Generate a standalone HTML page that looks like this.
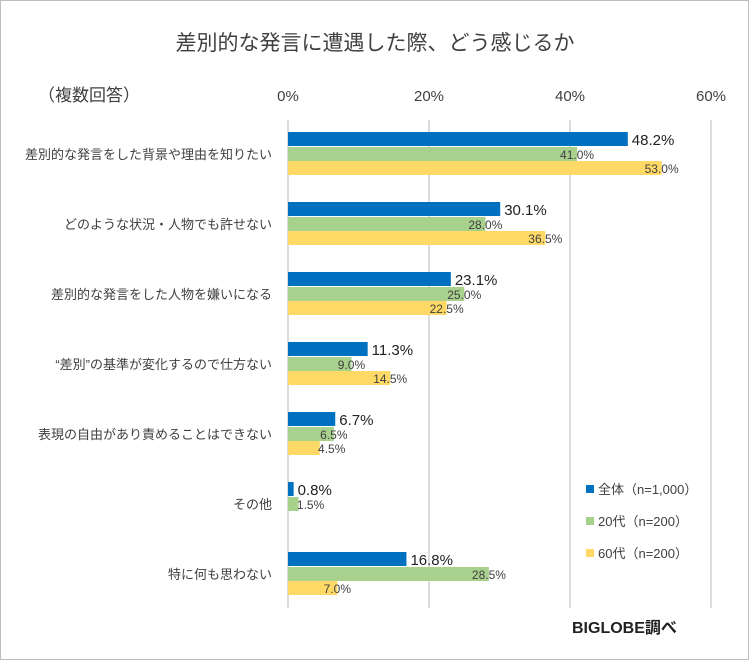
<!DOCTYPE html>
<html><head><meta charset="utf-8"><style>
html,body{margin:0;padding:0;background:#fff;}
svg{display:block;font-family:"Liberation Sans","Noto Sans CJK JP",sans-serif;}
</style></head><body>
<svg id="chart" width="750" height="661" viewBox="0 0 750 661">
<rect x="0.5" y="0.5" width="748" height="659" fill="#fff" stroke="#bdbdbd"/>
<text x="375" y="50" text-anchor="middle" font-size="21" fill="#404040">差別的な発言に遭遇した際、どう感じるか</text>
<text x="38" y="101" font-size="17" fill="#404040">（複数回答）</text>
<g id="grid"></g><g id="bars"></g><g id="labels"></g>
<g>
<rect x="586" y="485" width="8" height="8" fill="#0070c0"/>
<text x="598" y="494" font-size="13" fill="#404040">全体（n=1,000）</text>
<rect x="586" y="517" width="8" height="8" fill="#a9d18e"/>
<text x="598" y="526" font-size="13" fill="#404040">20代（n=200）</text>
<rect x="586" y="549" width="8" height="8" fill="#ffd966"/>
<text x="598" y="558" font-size="13" fill="#404040">60代（n=200）</text>
</g>
<text x="572" y="633" font-size="16" font-weight="bold" fill="#222">BIGLOBE調べ</text>
</svg>
<script>
const categories=["差別的な発言をした背景や理由を知りたい","どのような状況・人物でも許せない","差別的な発言をした人物を嫌いになる","“差別”の基準が変化するので仕方ない","表現の自由があり責めることはできない","その他","特に何も思わない"];
const allValues=[48.2,30.1,23.1,11.3,6.7,0.8,16.8];
const age20Values=[41.0,28.0,25.0,9.0,6.5,1.5,28.5];
const age60Values=[53.0,36.5,22.5,14.5,4.5,0,7.0];
const ticks=[0,20,40,60];
const NS="http://www.w3.org/2000/svg";
const x=v=>288+v*7.05;
const yBand=i=>132+i*70;
function mk(tag,attrs,parent){const e=document.createElementNS(NS,tag);for(const k in attrs)e.setAttribute(k,attrs[k]);document.getElementById(parent).appendChild(e);return e;}
ticks.forEach(t=>{
  const l=mk("line",{x1:x(t),x2:x(t),y1:120,y2:608,stroke:"#d0d0d0","stroke-width":1.5},"grid");
  
  
  const tx=mk("text",{x:x(t),y:101,"text-anchor":"middle","font-size":15,fill:"#404040"},"grid");
  tx.textContent=t+"%";
  
  
});
categories.forEach((c,i)=>{
  const y0=yBand(i);
  const ct=mk("text",{x:272,y:y0+27,"text-anchor":"end","font-size":13,fill:"#404040"},"labels");
  ct.textContent=c;
  
  
  const series=[[allValues[i],"#0070c0",0],[age20Values[i],"#a9d18e",15],[age60Values[i],"#ffd966",29]];
  series.forEach((s,j)=>{
    const [v,col,off]=s;
    if(v>0){
      const r=mk("rect",{x:x(0),y:y0+off,width:x(v)-x(0),height:14,fill:col},"bars");
      
      
    }
    if(j===2 && v===0) return;
    let t;
    if(j===0){
      t=mk("text",{x:x(v)+4,y:y0+13,"font-size":15,fill:"#222"},"labels");
    }else{
      t=mk("text",{x:x(v)+(v<5?12:0),y:y0+off+12,"font-size":12,fill:"#404040","text-anchor":"middle"},"labels");
    }
    t.textContent=v.toFixed(1)+"%";
    
    
  });
});
</script>
</body></html>
